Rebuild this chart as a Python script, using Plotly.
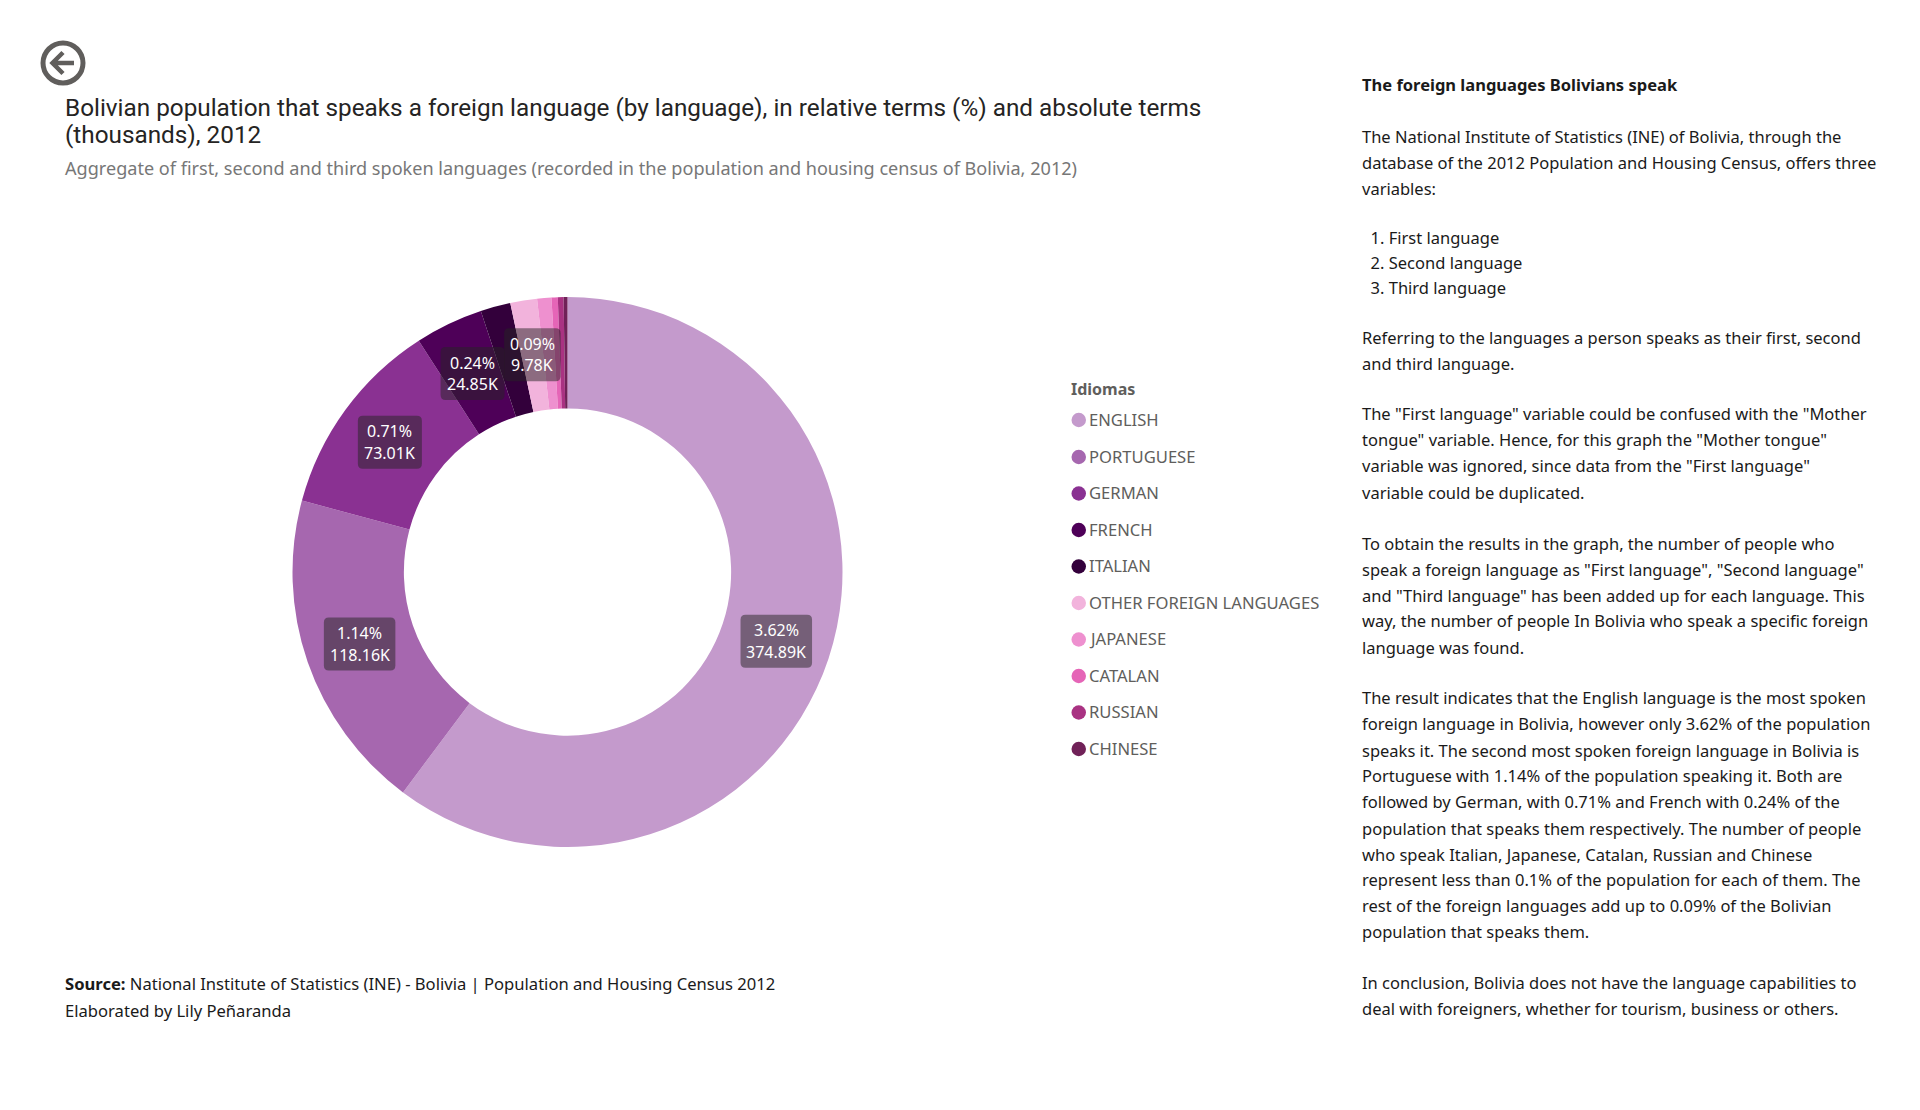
import math
import plotly.graph_objects as go

W, H = 1920, 1110
languages = ["ENGLISH", "PORTUGUESE", "GERMAN", "FRENCH", "ITALIAN", "OTHER FOREIGN LANGUAGES",
             "JAPANESE", "CATALAN", "RUSSIAN", "CHINESE"]
thousands = [374.89, 118.16, 73.01, 24.85, 11.0, 9.78, 5.2, 2.3, 2.1, 1.4]
percent_text = ["3.62%", "1.14%", "0.71%", "0.24%", "", "0.09%", "", "", "", ""]
value_text = ["374.89K", "118.16K", "73.01K", "24.85K", "", "9.78K", "", "", "", ""]
colors = ["#C49ACC", "#A667AF", "#8A3192", "#4E0058", "#33003B", "#F2B3DC", "#EE90CF", "#E565B7", "#A93282", "#702158"]

title_lines = ["Bolivian population that speaks a foreign language (by language), in relative terms (%) and absolute terms",
               "(thousands), 2012"]
subtitle = "Aggregate of first, second and third spoken languages (recorded in the population and housing census of Bolivia, 2012)"
source_lines = ["<b>Source:</b> National Institute of Statistics (INE) - Bolivia | Population and Housing Census 2012",
                "Elaborated by Lily Peñaranda"]
body_lines = [
    (84, "<b>The foreign languages Bolivians speak</b>"),
    (137, "The National Institute of Statistics (INE) of Bolivia, through the"),
    (162, "database of the 2012 Population and Housing Census, offers three"),
    (188, "variables:"),
    (237, "  1. First language"), (262, "  2. Second language"), (287, "  3. Third language"),
    (337, "Referring to the languages a person speaks as their first, second"),
    (363, "and third language."),
    (414, "The \"First language\" variable could be confused with the \"Mother"),
    (440, "tongue\" variable. Hence, for this graph the \"Mother tongue\""),
    (466, "variable was ignored, since data from the \"First language\""),
    (492, "variable could be duplicated."),
    (543, "To obtain the results in the graph, the number of people who"),
    (569, "speak a foreign language as \"First language\", \"Second language\""),
    (595, "and \"Third language\" has been added up for each language. This"),
    (621, "way, the number of people In Bolivia who speak a specific foreign"),
    (647, "language was found."),
    (697, "The result indicates that the English language is the most spoken"),
    (723, "foreign language in Bolivia, however only 3.62% of the population"),
    (750, "speaks it. The second most spoken foreign language in Bolivia is"),
    (775, "Portuguese with 1.14% of the population speaking it. Both are"),
    (802, "followed by German, with 0.71% and French with 0.24% of the"),
    (828, "population that speaks them respectively. The number of people"),
    (854, "who speak Italian, Japanese, Catalan, Russian and Chinese"),
    (879, "represent less than 0.1% of the population for each of them. The"),
    (905, "rest of the foreign languages add up to 0.09% of the Bolivian"),
    (931, "population that speaks them."),
    (983, "In conclusion, Bolivia does not have the language capabilities to"),
    (1008, "deal with foreigners, whether for tourism, business or others."),
]

CX, CY, R, HOLE = 567.5, 572, 275, 0.595
SANS = "Noto Sans"
fx = lambda p: p / W
fy = lambda p: 1 - p / H
ann, shapes = [], []

def text(x, y, s, size, color, family=SANS, anchor="left"):
    ann.append(dict(x=fx(x), y=fy(y), xref="paper", yref="paper", text=s, showarrow=False, xanchor=anchor,
                    yanchor="middle", align=anchor, font=dict(size=size, color=color, family=family)))

def rounded(x0, y0, x1, y1, r, color):
    path = (f"M{fx(x0+r)},{fy(y0)} L{fx(x1-r)},{fy(y0)} Q{fx(x1)},{fy(y0)} {fx(x1)},{fy(y0+r)} "
            f"L{fx(x1)},{fy(y1-r)} Q{fx(x1)},{fy(y1)} {fx(x1-r)},{fy(y1)} L{fx(x0+r)},{fy(y1)} "
            f"Q{fx(x0)},{fy(y1)} {fx(x0)},{fy(y1-r)} L{fx(x0)},{fy(y0+r)} Q{fx(x0)},{fy(y0)} {fx(x0+r)},{fy(y0)} Z")
    shapes.append(dict(type="path", path=path, xref="paper", yref="paper", fillcolor=color, line_width=0, layer="above"))

# Data labels are centred on each slice's mid angle at the middle of the ring
total = sum(thousands)
cum = 0
for v, p, t in zip(thousands, percent_text, value_text):
    mid = (cum + v / 2) / total * 2 * math.pi
    cum += v
    if not p:
        continue
    rm = R * (1 + 0.6) / 2
    x, y = CX + rm * math.sin(mid), CY - rm * math.cos(mid)
    w = 7.5 * max(len(p), len(t)) + 19
    rounded(x - w / 2, y - 26.5, x + w / 2, y + 26.5, 5, "rgba(37,36,35,0.5)")
    text(x, y - 11, p, 16, "white", anchor="center")
    text(x, y + 10.5, t, 16, "white", anchor="center")

# Titles
text(62.5, 107.5, title_lines[0], 24.3, "#252423", "Roboto")
text(62.5, 135, title_lines[1], 24.3, "#252423", "Roboto")
text(62.5, 168, subtitle, 18.1, "#777777")

# Back icon
shapes.append(dict(type="circle", xref="paper", yref="paper", x0=fx(43), x1=fx(83), y0=fy(83), y1=fy(43),
                   line=dict(color="#605E5C", width=5), fillcolor="white"))
arrow = (f"M{fx(74)},{fy(63)} L{fx(53)},{fy(63)} M{fx(63)},{fy(52.5)} L{fx(52.5)},{fy(63)} L{fx(63)},{fy(73.5)}")
shapes.append(dict(type="path", path=arrow, xref="paper", yref="paper", line=dict(color="#605E5C", width=4.5)))

# Legend
text(1069, 388.5, "<b>Idiomas</b>", 16, "#605E5C")
legend_y = [420, 457, 493.5, 530, 566.5, 603, 639.5, 676, 712.5, 749]
for name, col, y in zip(languages, colors, legend_y):
    shapes.append(dict(type="circle", xref="paper", yref="paper", x0=fx(1071.5), x1=fx(1086), y0=fy(y + 7.2), y1=fy(y - 7.2),
                       fillcolor=col, line_width=0))
    text(1087, y - 0.8, name, 16.6, "#605E5C")

# Source
text(62.5, 983.5, source_lines[0], 16.6, "#1a1a1a")
text(62.5, 1010, source_lines[1], 16.6, "#1a1a1a")

# Body
for y, s in body_lines:
    text(1359.5, y, s, 16.5, "#1a1a1a")

fig = go.Figure(go.Pie(labels=languages, values=thousands, hole=HOLE, sort=False, direction="clockwise", rotation=0,
                       marker=dict(colors=colors, line=dict(width=0)), textinfo="none",
                       domain=dict(x=[fx(CX - R), fx(CX + R)], y=[fy(CY + R), fy(CY - R)])))
fig.update_layout(width=W, height=H, margin=dict(l=0, r=0, t=0, b=0), showlegend=False, paper_bgcolor="white",
                  annotations=ann, shapes=shapes)
fig.write_html("out.html", config={"displayModeBar": False},
               post_script="document.body.style.margin='0';document.body.style.overflow='hidden';")
